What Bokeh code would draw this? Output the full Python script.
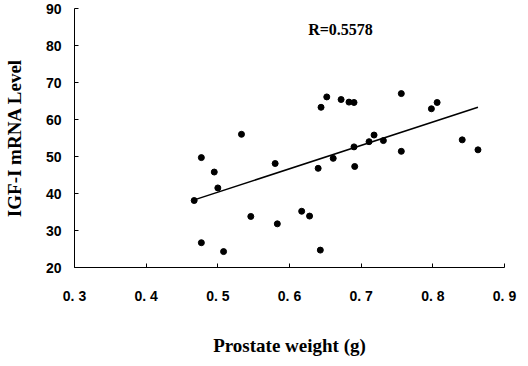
from bokeh.plotting import figure
from bokeh.models import FixedTicker, Range1d
from bokeh.core.properties import value
from bokeh.embed import file_html
from bokeh.resources import INLINE

weight = [0.477, 0.495, 0.533, 0.580, 0.640, 0.644, 0.652, 0.672, 0.683, 0.690,
          0.661, 0.690, 0.691, 0.711, 0.718, 0.731, 0.756, 0.756, 0.798, 0.806,
          0.841, 0.863, 0.467, 0.500, 0.477, 0.508, 0.546, 0.583, 0.617, 0.628, 0.643]
igf = [49.7, 45.8, 56.0, 48.1, 46.8, 63.3, 66.1, 65.4, 64.7, 64.6,
       49.5, 52.6, 47.3, 54.0, 55.8, 54.3, 67.0, 51.4, 62.9, 64.6,
       54.5, 51.8, 38.1, 41.5, 26.7, 24.3, 33.8, 31.8, 35.2, 33.9, 24.7]
fit_x = [0.466, 0.863]
fit_y = [38.2, 63.3]
x_ticks = [0.3, 0.4, 0.5, 0.6, 0.7, 0.8, 0.9]
x_tick_labels = ["0. 3", "0. 4", "0. 5", "0. 6", "0. 7", "0. 8", "0. 9"]
y_ticks = [20, 30, 40, 50, 60, 70, 80, 90]
r_label = "R=0.5578"

p = figure(width=520, height=358, output_backend="svg", toolbar_location=None,
           x_range=Range1d(0.3, 0.9), y_range=Range1d(20, 90),
           min_border_left=70, min_border_right=16, min_border_top=8, min_border_bottom=84)
p.outline_line_color = None
p.grid.grid_line_color = None

p.line(fit_x, fit_y, line_color="black", line_width=1.5)
p.scatter(weight, igf, size=6, color="black")
p.text(x=[0.626], y=[84.2], text=[r_label], text_font=value("Liberation Serif"),
       text_font_size="16px", text_font_style="bold", text_baseline="middle",
       text_align="left", text_color="black")

for ax in (p.xaxis[0], p.yaxis[0]):
    ax.axis_line_color = "black"
    ax.major_tick_in = 4
    ax.major_tick_out = 0
    ax.minor_tick_line_color = None
    ax.major_tick_line_color = "black"
    ax.major_label_text_font = "Liberation Sans"
    ax.major_label_text_font_style = "bold"
    ax.major_label_text_font_size = "14px"
    ax.major_label_text_color = "black"
    ax.axis_label_text_font = "Liberation Serif"
    ax.axis_label_text_font_style = "bold"
    ax.axis_label_text_font_size = "19px"
    ax.axis_label_text_color = "black"

p.xaxis.ticker = FixedTicker(ticks=x_ticks)
p.xaxis.major_label_overrides = {t: l for t, l in zip(x_ticks, x_tick_labels)}
p.xaxis.major_label_standoff = 20
p.xaxis.axis_label = "Prostate weight (g)"
p.xaxis.axis_label_standoff = 28

p.yaxis.ticker = FixedTicker(ticks=y_ticks)
p.yaxis.major_label_standoff = 13
p.yaxis.axis_label = "IGF-I mRNA Level"
p.yaxis.axis_label_standoff = 18

open("out.html", "w").write(file_html(p, INLINE))
